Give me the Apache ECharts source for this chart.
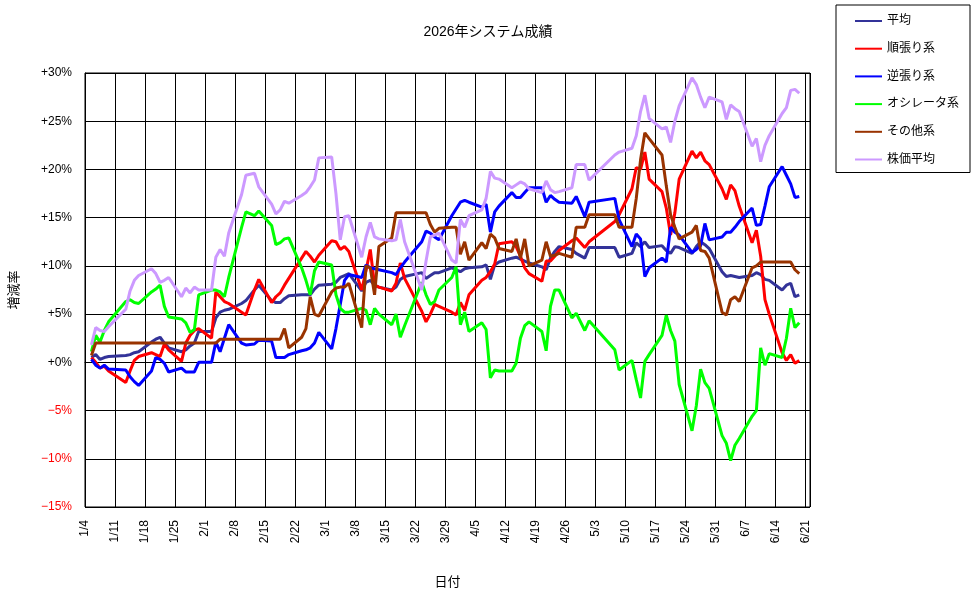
<!DOCTYPE html>
<html><head><meta charset="utf-8">
<script src="https://cdn.jsdelivr.net/npm/echarts@6/dist/echarts.min.js"></script>
<style>html,body{margin:0;padding:0;background:#fff}#c{width:976px;height:599px}</style>
</head><body><div id="c"></div>
<script>
// trading days (M/D, 2026)
const dates = [
 '1/5','1/6','1/7','1/8','1/9',
 '1/13','1/14','1/15','1/16',
 '1/19','1/20','1/21','1/22','1/23',
 '1/26','1/27','1/28','1/29','1/30',
 '2/2','2/3','2/4','2/5','2/6',
 '2/9','2/10','2/12','2/13',
 '2/16','2/17','2/18','2/19','2/20',
 '2/23','2/24','2/25','2/26','2/27',
 '3/2','3/3','3/4','3/5','3/6',
 '3/9','3/10','3/11','3/12','3/13',
 '3/16','3/17','3/18','3/19',
 '3/23','3/24','3/25','3/26','3/27',
 '3/30','3/31','4/1','4/2','4/3',
 '4/6','4/7','4/8','4/9','4/10',
 '4/13','4/14','4/15','4/16','4/17',
 '4/20','4/21','4/22','4/23','4/24',
 '4/27','4/28','4/30','5/1',
 '5/7','5/8',
 '5/11','5/12','5/13','5/14','5/15',
 '5/18','5/19','5/20','5/21','5/22',
 '5/25','5/26','5/27','5/28','5/29',
 '6/1','6/2','6/3','6/4','6/5',
 '6/8','6/9','6/10','6/11','6/12',
 '6/15','6/16','6/17','6/18','6/19'
];
const tickLabels = ['1/4','1/11','1/18','1/25','2/1','2/8','2/15','2/22','3/1','3/8','3/15','3/22','3/29','4/5','4/12','4/19','4/26','5/3','5/10','5/17','5/24','5/31','6/7','6/14','6/21'];
const seriesNames = ['平均','順張り系','逆張り系','オシレータ系','その他系','株価平均'];

const heikin = [
 0.5,0.8,0.3,0.5,0.6, 0.7,0.8,1.0,1.1, 2.1,2.4,2.6,2.0,1.5, 1.1,1.3,1.7,2.0,3.2,
 3.2,4.6,5.2,5.4,5.5, 6.1,6.4,7.5,8.0, 6.4,6.2,6.2,6.6,6.9, 7.0,7.0,7.0,7.6,8.0,
 8.1,8.3,8.8,9.0,9.2, 7.4,8.3,8.5,8.0,7.8, 7.5,7.8,8.6,8.9, 9.3,8.7,9.0,9.3,9.3,
 9.8,9.6,9.4,9.7,9.8, 9.9,10.1,8.6,10.1,10.4, 10.8,10.9,10.7,10.5,10.3, 9.9,9.6,10.8,11.5,12.0,
 11.7,11.3,10.8,11.9, 11.9,10.9, 11.3,12.4,12.0,12.5,11.9, 12.1,11.6,11.3,12.0,11.9,
 11.3,12.0,12.5,12.2,11.8, 9.4,8.9,9.0,8.9,8.8, 9.0,9.3,9.1,8.6,8.5, 7.5,8.0,8.2,6.8,7.0
];
const junbari = [
 0.5,0.0,-0.6,-0.4,-0.9, -2.1,-0.9,0.2,0.6, 1.0,0.8,0.6,1.9,1.3, 0.1,2.0,2.8,3.3,3.5,
 2.5,7.3,6.8,6.3,6.1, 5.2,4.9,7.5,8.6, 6.2,6.8,7.2,8.0,8.7, 10.8,11.5,11.0,10.4,11.1,
 12.6,12.5,11.7,12.0,11.5, 7.5,9.5,11.7,8.0,7.8, 7.4,8.2,10.3,8.7, 5.3,4.2,5.0,6.0,5.8,
 5.2,4.9,6.2,5.4,7.0, 8.5,8.8,9.4,10.2,12.3, 12.5,12.0,11.0,9.8,9.2, 8.4,10.5,10.5,11.0,11.6,
 12.6,12.9,11.9,12.5, 14.6,15.3, 18.0,20.2,20.0,21.8,19.0, 17.7,16.0,13.2,15.5,19.0,
 21.9,21.2,21.8,20.9,20.5, 18.0,16.9,18.4,17.8,16.2, 12.4,13.7,11.0,6.5,5.0, 1.0,0.2,0.8,-0.1,0.2
];
const gyakubari = [
 0.3,-0.3,-0.6,-0.3,-0.7, -0.8,-1.5,-2.0,-2.4, -0.9,0.5,0.3,-0.1,-1.0, -0.6,-1.0,-1.0,-1.0,0.0,
 0.0,2.1,1.1,2.5,3.9, 2.0,1.8,1.9,2.3, 2.2,0.5,0.5,0.5,0.8, 1.2,1.3,1.5,2.0,3.1,
 1.4,3.5,6.0,8.5,9.1, 8.8,10.1,9.8,9.7,9.6, 9.3,9.1,9.8,10.4, 12.5,13.6,13.4,13.0,12.7,
 15.2,15.9,16.6,16.8,16.6, 16.1,16.4,13.5,15.6,16.2, 17.6,17.1,17.1,17.6,18.1, 18.1,16.6,17.3,16.9,16.6,
 16.5,17.2,15.1,16.6, 17.0,14.8, 12.0,13.3,12.8,8.9,9.8, 10.8,10.4,14.0,13.5,13.2,
 11.4,11.7,12.1,14.4,12.7, 13.0,13.5,13.5,14.0,14.6, 16.0,14.2,14.3,16.2,18.2, 20.3,19.4,18.5,17.1,17.2
];
const oscillator = [
 1.1,2.8,2.1,3.3,4.2, 6.3,6.5,6.2,6.1, 7.3,7.6,8.0,5.8,4.7, 4.5,4.1,3.1,3.4,7.0,
 7.5,7.5,7.3,6.8,8.8, 14.0,15.6,15.2,15.7, 14.2,12.2,12.4,12.8,12.9, 9.8,8.5,7.0,9.5,10.4,
 10.1,7.0,5.6,5.2,5.2, 5.6,5.4,3.9,5.6,5.0, 3.9,5.0,2.6,3.8, 8.3,7.0,6.0,6.3,7.5,
 8.8,9.9,3.9,5.2,3.2, 4.1,3.4,-1.6,-0.8,-0.9, -0.9,-0.1,2.5,3.8,4.2, 3.2,1.2,5.8,7.5,7.5,
 4.6,5.1,3.3,4.3, 1.3,-0.8, 0.2,-1.8,-3.7,0.1,0.8, 2.8,4.9,3.3,2.2,-2.3,
 -7.1,-4.5,-0.7,-2.1,-2.7, -7.6,-8.4,-10.2,-8.6,-7.9, -5.6,-5.0,1.5,-0.3,0.9, 0.5,2.5,5.6,3.6,4.1
];
const sonota = [
 0.7,2.0,2.0,2.0,2.0, 2.0,2.0,2.0,2.0, 2.0,2.0,2.0,2.0,2.0, 2.0,2.0,2.0,2.0,2.0,
 2.0,2.0,2.4,2.4,2.4, 2.4,2.4,2.4,2.4, 2.4,2.4,2.4,3.5,1.5, 2.6,3.5,6.8,5.0,4.8,
 7.3,7.7,7.8,7.8,8.2, 3.6,10.0,9.8,7.0,12.0, 12.9,15.5,15.5,15.5, 15.5,15.5,14.3,13.5,13.9,
 14.0,14.0,11.2,12.5,10.6, 12.4,11.8,13.3,12.9,11.8, 11.5,12.8,10.8,12.8,10.0, 10.6,12.5,11.0,11.1,11.3,
 10.9,14.0,14.0,15.3, 15.3,14.0, 14.0,17.0,21.0,23.8,23.2, 21.5,18.3,15.3,14.0,12.8,
 13.5,14.2,11.6,11.5,10.8, 5.2,4.9,6.5,6.8,6.3, 9.8,10.0,10.4,10.4,10.4, 10.4,10.4,10.4,9.6,9.2
];
const kabuka = [
 1.8,3.6,3.3,3.2,3.7, 5.5,7.4,8.5,9.0, 9.7,9.2,8.3,8.5,8.8, 6.8,7.7,7.2,7.8,7.5,
 7.5,10.9,11.7,11.0,13.4, 17.4,19.4,19.6,18.2, 16.4,15.4,15.8,16.7,16.5, 17.3,17.6,18.2,18.9,21.2,
 21.3,17.5,12.7,15.1,15.2, 10.9,13.0,14.5,13.0,12.8, 12.6,12.7,14.8,12.5, 7.5,10.5,13.0,13.2,13.4,
 10.6,10.3,14.8,14.0,15.2, 15.8,17.0,19.8,19.1,19.0, 18.1,18.4,18.7,18.5,18.0, 17.6,18.8,17.9,17.6,17.7,
 18.1,20.5,20.5,18.9, 21.5,21.8, 22.2,23.5,26.0,27.7,25.3, 24.2,24.4,22.8,25.0,26.6,
 29.5,28.8,27.5,26.4,27.5, 27.0,25.2,26.7,26.3,26.0, 22.4,23.2,20.8,22.5,23.5, 25.8,26.4,28.2,28.3,27.9
];
const seriesValues = [heikin, junbari, gyakubari, oscillator, sonota, kabuka];
const seriesColors = ['#333399','#FF0000','#0000FF','#00FF00','#993300','#CC99FF'];

const FF = "'Liberation Sans','Noto Sans CJK JP',sans-serif";
function dayOf(md){const p=md.split('/');return (Date.UTC(2026,+p[0]-1,+p[1])-Date.UTC(2026,0,4))/86400000;}
const xs = dates.map(d => dayOf(d) + 0.5);

const chart = echarts.init(document.getElementById('c'), null, {renderer:'canvas'});
chart.setOption({
  animation:false,
  backgroundColor:'#fff',
  textStyle:{fontFamily:FF},
  title:{text:'2026年システム成績', left:'center', top:20,
    textStyle:{fontFamily:FF, fontSize:14, fontWeight:'normal', color:'#000'}},
  legend:{orient:'vertical', left:836, top:5, padding:[10,11,7,18], itemGap:15.7,
    itemWidth:27, itemHeight:14, backgroundColor:'#fff', borderColor:'#000', borderWidth:1,
    itemStyle:{opacity:0},
    textStyle:{fontFamily:FF, fontSize:12, color:'#000'}, data:seriesNames},
  grid:{left:85, right:166, top:73, bottom:92, show:true, borderColor:'#000', borderWidth:1, backgroundColor:'#fff'},
  xAxis:{type:'value', min:0, max:169, interval:7,
    name:'日付', nameLocation:'middle', nameGap:69, nameTextStyle:{fontFamily:FF, fontSize:13, color:'#000'},
    axisLine:{show:true, lineStyle:{color:'#000'}}, axisTick:{show:false},
    splitLine:{show:true, lineStyle:{color:'#000', width:1}},
    axisLabel:{rotate:90, margin:13, fontSize:12, color:'#000', fontFamily:FF, showMinLabel:true, showMaxLabel:true,
      formatter:v => (v % 7 === 0 && tickLabels[v/7] !== undefined) ? tickLabels[v/7] : ''}},
  yAxis:{type:'value', min:-15, max:30, interval:5,
    name:'増減率', nameLocation:'middle', nameGap:64, nameRotate:90, nameTextStyle:{fontFamily:FF, fontSize:13, color:'#000'},
    axisLine:{show:true, lineStyle:{color:'#000'}}, axisTick:{show:false},
    splitLine:{show:true, lineStyle:{color:'#000', width:1}},
    axisLabel:{margin:13, fontSize:12, fontFamily:FF,
      color:v => Number(v) < 0 ? '#FF0000' : '#000000',
      formatter:v => (v < 0 ? '\u2212' + Math.abs(v) : '+' + v) + '%'}},
  series: seriesNames.map((n,i) => ({
    name:n, type:'line', symbol:'none', showSymbol:false, silent:true,
    lineStyle:{width:3, color:seriesColors[i]}, itemStyle:{color:seriesColors[i]},
    data: xs.map((x,j) => [x, seriesValues[i][j]])
  }))
});
</script>
</body></html>
